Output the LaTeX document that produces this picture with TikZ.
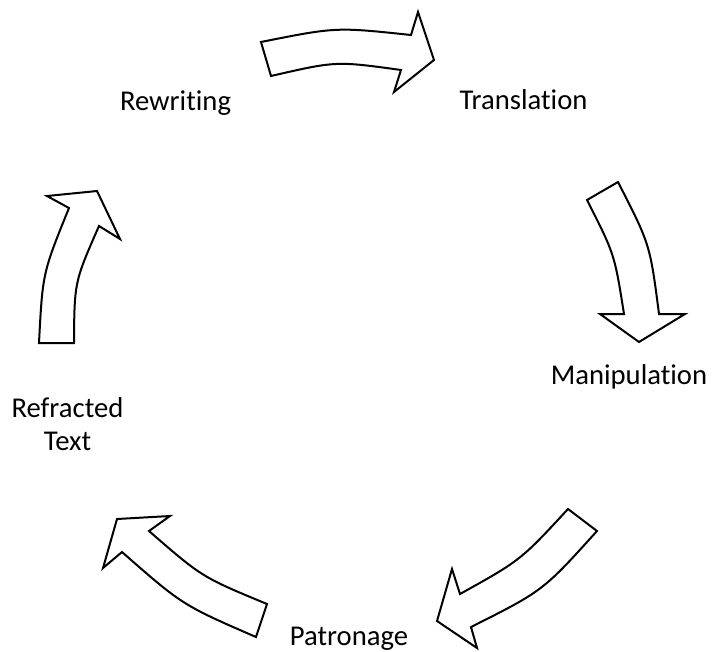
\documentclass[tikz,border=0pt]{standalone}
\usepackage{fontspec}
\setmainfont{Carlito}[Ligatures={NoCommon,NoRequired}]

\tikzstyle{cycleArrow}=[draw=black,fill=white,line width=1.5pt,line join=miter]
\tikzstyle{cycleLabel}=[font=\fontsize{21.5}{24.7}\selectfont,inner sep=0pt,anchor=base,align=center]

\begin{document}
\begin{tikzpicture}[x=0.75pt,y=-0.75pt]
        \useasboundingbox (0,0) rectangle (714,651);

        % labels
        \node[cycleLabel] (rewriting)    at (175.5,110.5) {Rewriting};
        \node[cycleLabel] (translation)  at (523.5,109)   {Translation};
        \node[cycleLabel] (manipulation) at (629,384)     {Manipulation};
        \node[cycleLabel] (patronage)    at (349,645)     {Patronage};
        \node[cycleLabel] (refracted)    at (67.5,450)    {Refracted\\Text};

        % block arrows
        \draw[cycleArrow] (261,42) .. controls (336,27) .. (411,35) -- (418,12) -- (434,60)
            -- (394,92) -- (401,70) .. controls (336,61) .. (271,76) -- cycle;
        \draw[cycleArrow] (587,200) .. controls (614.5,254) .. (624,314) -- (600,314) -- (639,342)
            -- (685,314) -- (659,314) .. controls (650,244.4) .. (618,182) -- cycle;
        \draw[cycleArrow] (568,509) .. controls (520.8,560.1) .. (460,594) -- (452,569) -- (437,621)
            -- (477,648) -- (471,627) .. controls (543,590.8) .. (597,531) -- cycle;
        \draw[cycleArrow] (267,604) .. controls (202,577.1) .. (149,531) -- (170,516) -- (117,519)
            -- (103,568) -- (122,552) .. controls (182.4,605) .. (256,637) -- cycle;
        \draw[cycleArrow] (39,343) .. controls (42.6,273) .. (69,208) -- (47,196) -- (97,191)
            -- (120,239) -- (99,226) .. controls (74.4,281.9) .. (74,343) -- cycle;
\end{tikzpicture}
\end{document}
